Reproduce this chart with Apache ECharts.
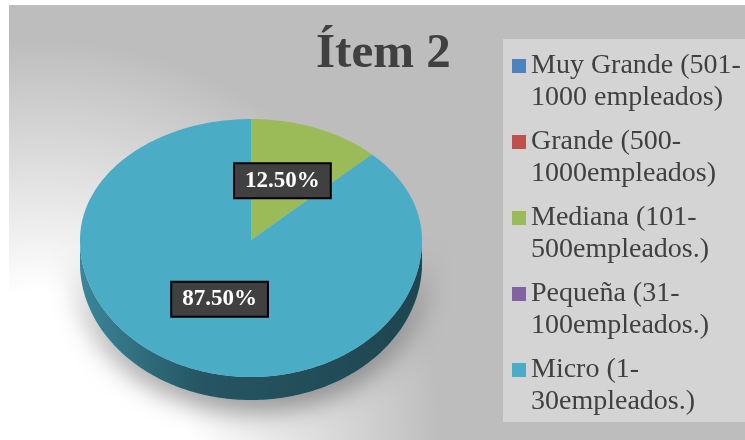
<!DOCTYPE html>
<html>
<head>
<meta charset="utf-8">
<script src="https://cdn.jsdelivr.net/npm/echarts@6/dist/echarts.min.js"></script>
<style>
  html, body { margin: 0; padding: 0; background: #ffffff; }
  #main { position: absolute; left: 9px; top: 5px; width: 736px; height: 435px; }
</style>
</head>
<body>
<div id="main"></div>
<script>
const titleText = 'Ítem 2';
const categories = [
  'Muy Grande (501-1000 empleados)',
  'Grande (500-1000empleados)',
  'Mediana (101-500empleados.)',
  'Pequeña (31-100empleados.)',
  'Micro (1-30empleados.)'
];
const colors = ['#4f81bd', '#c0504d', '#9bbb59', '#8064a2', '#4bacc6'];
const values = [0, 0, 12.5, 0, 87.5];

const total = values.reduce((a, b) => a + b, 0);
// tilted pie: centre, radii (back half / front half) and wall height
const pie = { cx: 242, cy: 235, rx: 171, ryTop: 121, ryBot: 137, depth: 23 };

function pt(t, dy) {
  const r = t * Math.PI / 180;
  const c = Math.cos(r);
  return [pie.cx + pie.rx * Math.sin(r), pie.cy - (c >= 0 ? pie.ryTop : pie.ryBot) * c + dy];
}

function arc(a0, a1, dy) {
  const pts = [];
  const n = Math.max(2, Math.ceil(Math.abs(a1 - a0)));
  for (let k = 0; k <= n; k++) pts.push(pt(a0 + (a1 - a0) * k / n, dy));
  return pts;
}

function renderSlice(params, api) {
  const i = params.seriesIndex;
  const v = api.value(0);
  if (!v) return null;
  let before = 0;
  for (let k = 0; k < i; k++) before += values[k];
  const a0 = before / total * 360;
  const a1 = (before + v) / total * 360;
  const color = colors[i];
  const children = [];

  // front wall
  const s0 = Math.max(a0, 90), s1 = Math.min(a1, 270);
  if (s1 > s0) {
    const side = arc(s0, s1, 0).concat(arc(s1, s0, pie.depth));
    children.push({
      type: 'polygon', z2: 1, shape: { points: side },
      style: { fill: color, shadowBlur: 28, shadowColor: 'rgba(0,0,0,0.5)', shadowOffsetY: 8 }
    });
    children.push({
      type: 'polygon', z2: 2, shape: { points: side },
      style: {
        fill: {
          type: 'linear', x: 0, y: 0, x2: 1, y2: 0,
          colorStops: [
            { offset: 0, color: 'rgba(0,0,0,0.22)' },
            { offset: 0.35, color: 'rgba(0,0,0,0.5)' },
            { offset: 1, color: 'rgba(0,0,0,0.6)' }
          ]
        }
      }
    });
  }

  // top face
  children.push({
    type: 'polygon', z2: 10,
    shape: { points: [[pie.cx, pie.cy]].concat(arc(a0, a1, 0)) },
    style: { fill: color }
  });

  // data label
  const mid = (a0 + a1) * Math.PI / 360;
  const lx = pie.cx + pie.rx * 0.48 * Math.sin(mid);
  const ly = pie.cy - 64 * Math.cos(mid);
  children.push({
    type: 'text', z2: 100, x: lx, y: ly,
    style: {
      text: (v / total * 100).toFixed(2) + '%',
      align: 'center', verticalAlign: 'middle',
      fill: '#ffffff',
      font: 'bold 23px "Liberation Serif"',
      backgroundColor: '#404040',
      borderColor: '#000000', borderWidth: 2,
      padding: [6, 10, 4, 10],
      boxShadowBlur: 5, boxShadowColor: 'rgba(0,0,0,0.5)',
      boxShadowOffsetX: 2, boxShadowOffsetY: 2
    }
  });
  return { type: 'group', children: children };
}

const myChart = echarts.init(document.getElementById('main'));
const legendText = { fontFamily: 'Liberation Serif', fontSize: 28, color: '#404040', lineHeight: 32 };

const option = {
  backgroundColor: {
    type: 'radial', x: 31, y: 435, r: 400, global: true,
    colorStops: [
      { offset: 0, color: '#ffffff' },
      { offset: 0.37, color: '#ffffff' },
      { offset: 1, color: '#bdbdbd' }
    ]
  },
  animation: false,
  title: {
    text: titleText,
    left: 302, top: 20,
    textStyle: { fontFamily: 'Liberation Serif', fontWeight: 'bold', fontSize: 49, color: '#404040' }
  },
  graphic: [{
    type: 'rect', left: 494, top: 34, z: 0,
    shape: { width: 242, height: 383 },
    style: { fill: '#d4d4d4' }
  }],
  legend: [
    {
      data: categories, orient: 'vertical', left: 503, top: 45,
      icon: 'rect', itemWidth: 14, itemHeight: 14, itemGap: 44, padding: 0,
      selectedMode: false,
      formatter: name => name.slice(0, name.indexOf('-') + 1),
      textStyle: legendText
    },
    {
      data: categories, orient: 'vertical', left: 503, top: 77,
      icon: 'rect', itemWidth: 14, itemHeight: 14, itemGap: 44, padding: 0,
      selectedMode: false,
      itemStyle: { opacity: 0 },
      formatter: name => name.slice(name.indexOf('-') + 1),
      textStyle: legendText
    }
  ],
  series: categories.map((name, i) => ({
    name: name,
    type: 'custom',
    coordinateSystem: 'none',
    itemStyle: { color: colors[i] },
    data: [[values[i]]],
    renderItem: renderSlice
  }))
};

myChart.setOption(option);
</script>
</body>
</html>
